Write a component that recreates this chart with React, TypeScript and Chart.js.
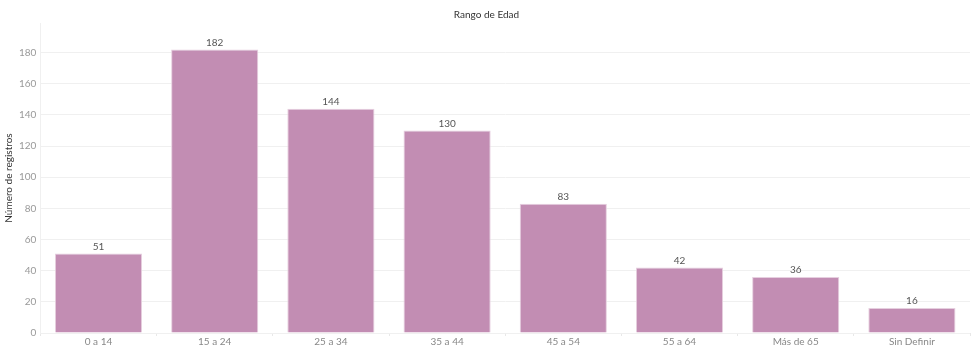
import React, { useEffect, useRef } from "react";
import { Chart, registerables } from "chart.js";

Chart.register(...registerables);

const categories = ["0 a 14", "15 a 24", "25 a 34", "35 a 44", "45 a 54", "55 a 64", "Más de 65", "Sin Definir"];
const values = [51, 182, 144, 130, 83, 42, 36, 16];
const titleText = "Rango de Edad";
const yTitle = "Número de registros";

const barLabels = {
  id: "barLabels",
  afterDatasetsDraw(chart: any) {
    const ctx = chart.ctx;
    const meta = chart.getDatasetMeta(0);
    ctx.save();
    ctx.font = "10px Lato";
    ctx.fillStyle = "#555555";
    ctx.textAlign = "center";
    ctx.textBaseline = "bottom";
    meta.data.forEach((el: any, i: number) => {
      ctx.fillText(String(values[i]), el.x, el.y - 2);
    });
    ctx.restore();
  },
};

export default function App() {
  const ref = useRef<HTMLCanvasElement>(null);
  useEffect(() => {
    document.body.style.margin = "0";
    const chart = new Chart(ref.current!, {
      type: "bar",
      data: {
        labels: categories,
        datasets: [
          {
            data: values,
            backgroundColor: "#c28db3",
            borderColor: "#e6cfdf",
            borderWidth: 1,
            categoryPercentage: 0.75,
            barPercentage: 1,
          },
        ],
      },
      options: {
        animation: false,
        responsive: false,
        maintainAspectRatio: false,
        layout: { padding: { left: 3, right: 1, top: 0, bottom: 0 } },
        plugins: {
          legend: { display: false },
          tooltip: { enabled: false },
          title: {
            display: true,
            text: titleText,
            color: "#333333",
            font: { family: "Lato", size: 10, weight: "normal" },
            padding: { top: 9, bottom: 2 },
          },
        },
        scales: {
          x: {
            offset: true,
            grid: { display: true, drawOnChartArea: false, drawTicks: true, tickLength: 3, color: "#e8e8e8" },
            border: { display: false },
            ticks: { color: "#888888", font: { family: "Lato", size: 10 }, padding: 0 },
          },
          y: {
            min: 0,
            max: 199,
            grid: {
              color: (c: any) => (c.tick && c.tick.value % 20 === 0 ? "#f0f0f0" : "rgba(0,0,0,0)"),
              drawTicks: false,
            },
            border: { display: true, color: "#f0f0f0" },
            ticks: {
              stepSize: 20,
              color: "#999999",
              font: { family: "Lato", size: 10 },
              padding: 4,
              callback: (v: any) => (Number(v) % 20 === 0 ? String(v) : ""),
            },
            title: {
              display: true,
              text: yTitle,
              color: "#333333",
              font: { family: "Lato", size: 10 },
              padding: { top: 0, bottom: 0 },
            },
          },
        },
      },
      plugins: [barLabels],
    });
    return () => chart.destroy();
  }, []);
  return (
    <div style={{ width: 971, height: 348 }}>
      <canvas ref={ref} width={971} height={348} />
    </div>
  );
}
